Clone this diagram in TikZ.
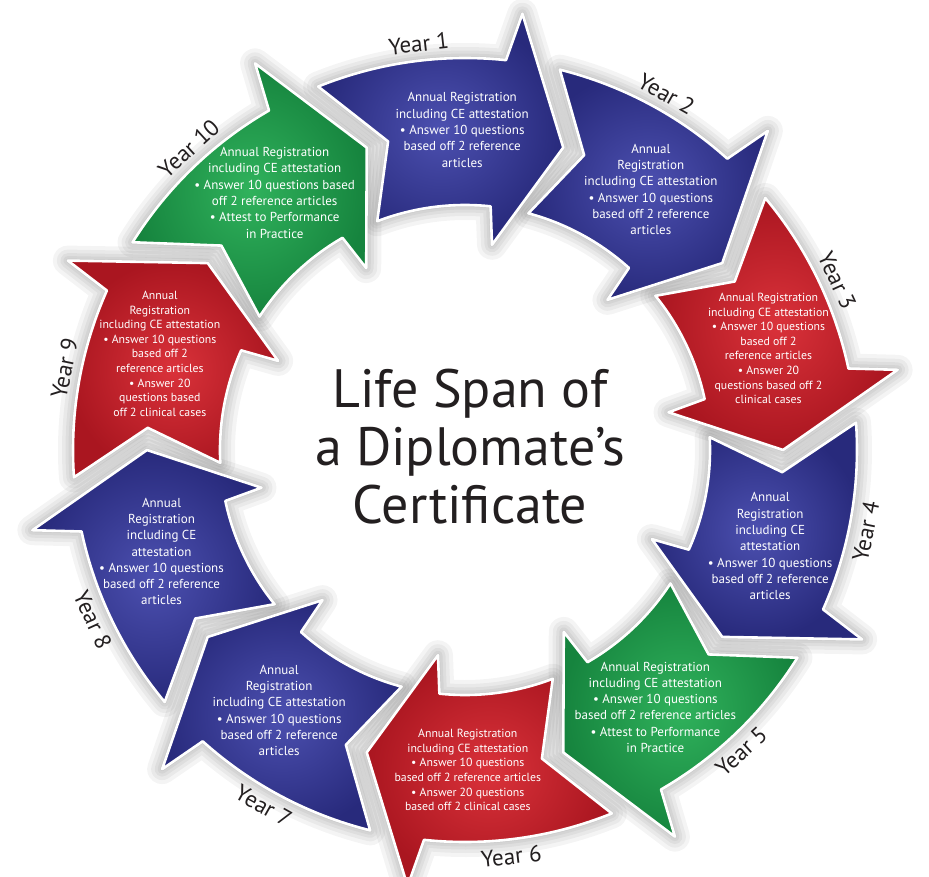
\documentclass[tikz,border=0pt]{standalone}
\usepackage{fontspec}
\setmainfont{PT Sans}
\definecolor{blueIn}{RGB}{76,80,176}
\definecolor{blueOut}{RGB}{40,42,124}
\definecolor{redIn}{RGB}{218,50,58}
\definecolor{redOut}{RGB}{170,22,32}
\definecolor{greenIn}{RGB}{48,178,92}
\definecolor{greenOut}{RGB}{22,132,62}
\definecolor{ink}{RGB}{35,31,32}
\def\rin{245}
\def\rout{392}
\def\rmid{318}
\def\rbi{207}
\def\rbo{440}
\tikzset{
  yeararrow/.style={insert path={({#1+20}:\rout) arc[start angle={#1+20},end angle={#1-8},radius=\rout]
    -- ({#1-9.5}:\rbo) -- ({#1-20}:\rmid) -- ({#1-9.5}:\rbi) -- ({#1-8}:\rin)
    arc[start angle={#1-8},end angle={#1+19},radius=\rin] -- ({#1+12}:\rmid) -- cycle}},
  bluefill/.style={inner color=blueIn,outer color=blueOut},
  redfill/.style={inner color=redIn,outer color=redOut},
  greenfill/.style={inner color=greenIn,outer color=greenOut},
  txt/.style={align=center,text=white,font=\fontsize{13}{16.3}\selectfont},
  txtsmall/.style={align=center,text=white,font=\fontsize{11.8}{14.6}\selectfont},
  yearlbl/.style={text=ink,font=\fontsize{23}{26}\selectfont},
  title/.style={align=center,text=ink,font=\fontsize{54}{58}\selectfont}
}
\begin{document}
\begin{tikzpicture}[x=1pt,y=1pt]
\fill[white] (-465,-426) rectangle (464,450);
\useasboundingbox (-465,-426) rectangle (464,450);
\clip (-465,-426) rectangle (464,450);

% soft halo first
\foreach \k in {1,...,10}{
  \pgfmathsetmacro\a{92-36*(\k-1)}
  \foreach \w in {30,22,15,9,4}
    \draw[black,opacity=.045,line width=\w pt,line join=round,yeararrow=\a];
}

\foreach \k/\col/\st/\txt in {
  1/bluefill/txt/{Annual Registration\\including CE attestation\\• Answer 10 questions\\based off 2 reference\\articles},
  2/bluefill/txt/{Annual\\Registration\\including CE attestation\\• Answer 10 questions\\based off 2 reference\\articles},
  3/redfill/txtsmall/{Annual Registration\\including CE attestation\\• Answer 10 questions\\based off 2\\reference articles\\• Answer 20\\questions based off 2\\clinical cases},
  4/bluefill/txt/{Annual\\Registration\\including CE\\attestation\\• Answer 10 questions\\based off 2 reference\\articles},
  5/greenfill/txt/{Annual Registration\\including CE attestation\\• Answer 10 questions\\based off 2 reference articles\\• Attest to Performance\\in Practice},
  6/redfill/txtsmall/{Annual Registration\\including CE attestation\\• Answer 10 questions\\based off 2 reference articles\\• Answer 20 questions\\based off 2 clinical cases},
  7/bluefill/txt/{Annual\\Registration\\including CE attestation\\• Answer 10 questions\\based off 2 reference\\articles},
  8/bluefill/txt/{Annual\\Registration\\including CE\\attestation\\• Answer 10 questions\\based off 2 reference\\articles},
  9/redfill/txtsmall/{Annual\\Registration\\including CE attestation\\• Answer 10 questions\\based off 2\\reference articles\\• Answer 20\\questions based\\off 2 clinical cases},
  10/greenfill/txt/{Annual Registration\\including CE attestation\\• Answer 10 questions based\\off 2 reference articles\\• Attest to Performance\\in Practice}}{
  \pgfmathsetmacro\a{92-36*(\k-1)}
  \pgfmathsetmacro\la{\a+4.5}
  \pgfmathsetmacro\rot{sin(\la)>0 ? \la-90 : \la+90}
  \shadedraw[\col,draw=white,line width=2.6pt,line join=round,yeararrow=\a];
  \node[\st] (t\k) at ({\a-1.5}:320) {\txt};
  \node[yearlbl,rotate=\rot] (y\k) at (\la:409) {Year \k};
}

\node[title] (ttl) at (5,3) {Life Span of\\a Diplomate’s\\Certificate};
\end{tikzpicture}
\end{document}
